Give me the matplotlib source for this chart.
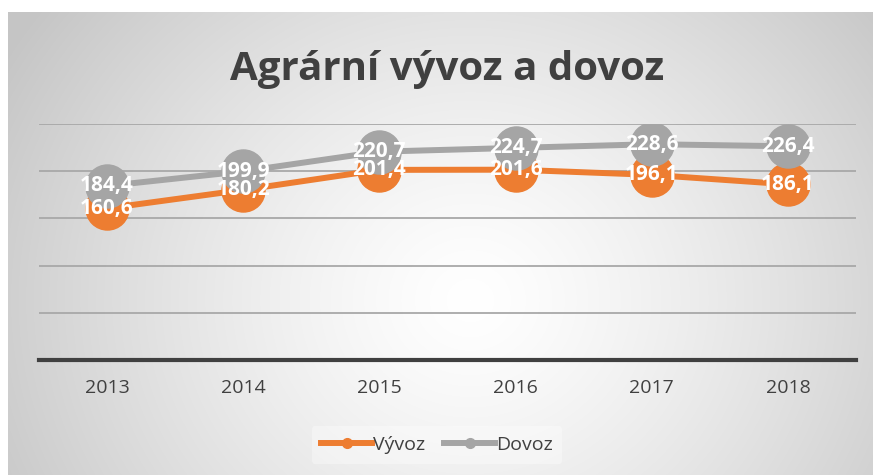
import numpy as np
import matplotlib
matplotlib.use("Agg")
import matplotlib.pyplot as plt
from matplotlib.lines import Line2D

years = ["2013", "2014", "2015", "2016", "2017", "2018"]
vyvoz = [160.6, 180.2, 201.4, 201.6, 196.1, 186.1]
dovoz = [184.4, 199.9, 220.7, 224.7, 228.6, 226.4]
series_names = ["Vývoz", "Dovoz"]

ORANGE = "#ED7D31"
GRAY = "#A5A5A5"
TEXT = "#404040"

W, H = 873, 475
fig = plt.figure(figsize=(W / 100, H / 100), dpi=100)
fig.patch.set_facecolor("white")

# radial gradient background of the chart area
bx0, by0 = 8, 12
bg = fig.add_axes([bx0 / W, 0, 1 - bx0 / W, 1 - by0 / H], zorder=0)
xx, yy = np.meshgrid(np.arange(bx0, W), np.arange(by0, H))
d = np.sqrt((xx - 470) ** 2 + ((yy - 300) * 1.1) ** 2)
g = 255 - 58 * np.clip(d / 540, 0, 1) ** 1.3
img = np.dstack([g, g, g]).astype(np.uint8)
bg.imshow(img, aspect="auto", interpolation="bilinear")
bg.axis("off")

ax = fig.add_axes([39 / W, 1 - 360 / H, (856 - 39) / W, (360 - 124) / H], zorder=1)
ax.patch.set_alpha(0)

x = np.arange(len(years))
ax.plot(x, vyvoz, color=ORANGE, lw=4.3, marker="o", ms=31, solid_capstyle="round", zorder=3)
ax.plot(x, dovoz, color=GRAY, lw=4.3, marker="o", ms=31, solid_capstyle="round", zorder=4)

for i in range(len(years)):
    for v in (vyvoz[i], dovoz[i]):
        ax.text(i, v, f"{v:.1f}".replace(".", ","), ha="center", va="center",
                color="white", fontsize=15, fontweight="bold", family="Open Sans", zorder=6)

ax.set_xlim(-0.5, len(years) - 0.5)
ax.set_ylim(0, 250)
ax.set_yticks([50, 100, 150, 200, 250])
ax.yaxis.grid(True, color="#A8A8A8", lw=1.3)
ax.set_axisbelow(True)
ax.tick_params(axis="y", left=False, labelleft=False)
ax.set_xticks(x)
ax.set_xticklabels(years, family="Open Sans", fontsize=14, color=TEXT)
ax.tick_params(axis="x", length=0, pad=14)
for s in ["top", "right", "left"]:
    ax.spines[s].set_visible(False)
ax.spines["bottom"].set_color(TEXT)
ax.spines["bottom"].set_linewidth(3)

fig.text(447 / W, 1 - 80 / H, "Agrární vývoz a dovoz", ha="center", va="baseline",
         fontsize=29, fontweight="bold", color=TEXT, family="Open Sans")

handles = [Line2D([], [], color=ORANGE, lw=4.3, marker="o", ms=7),
           Line2D([], [], color=GRAY, lw=4.3, marker="o", ms=7)]
leg = fig.legend(handles, series_names, loc="center",
                 bbox_to_anchor=(437 / W, 1 - 445 / H), ncol=2, frameon=True,
                 prop={"family": "Open Sans", "size": 14}, handlelength=2.6,
                 handletextpad=0.05, columnspacing=1.0, borderpad=0.5)
leg.get_frame().set_facecolor("white")
leg.get_frame().set_alpha(0.35)
leg.get_frame().set_edgecolor("none")
for t in leg.get_texts():
    t.set_color(TEXT)

fig.savefig("out.png", dpi=100)
